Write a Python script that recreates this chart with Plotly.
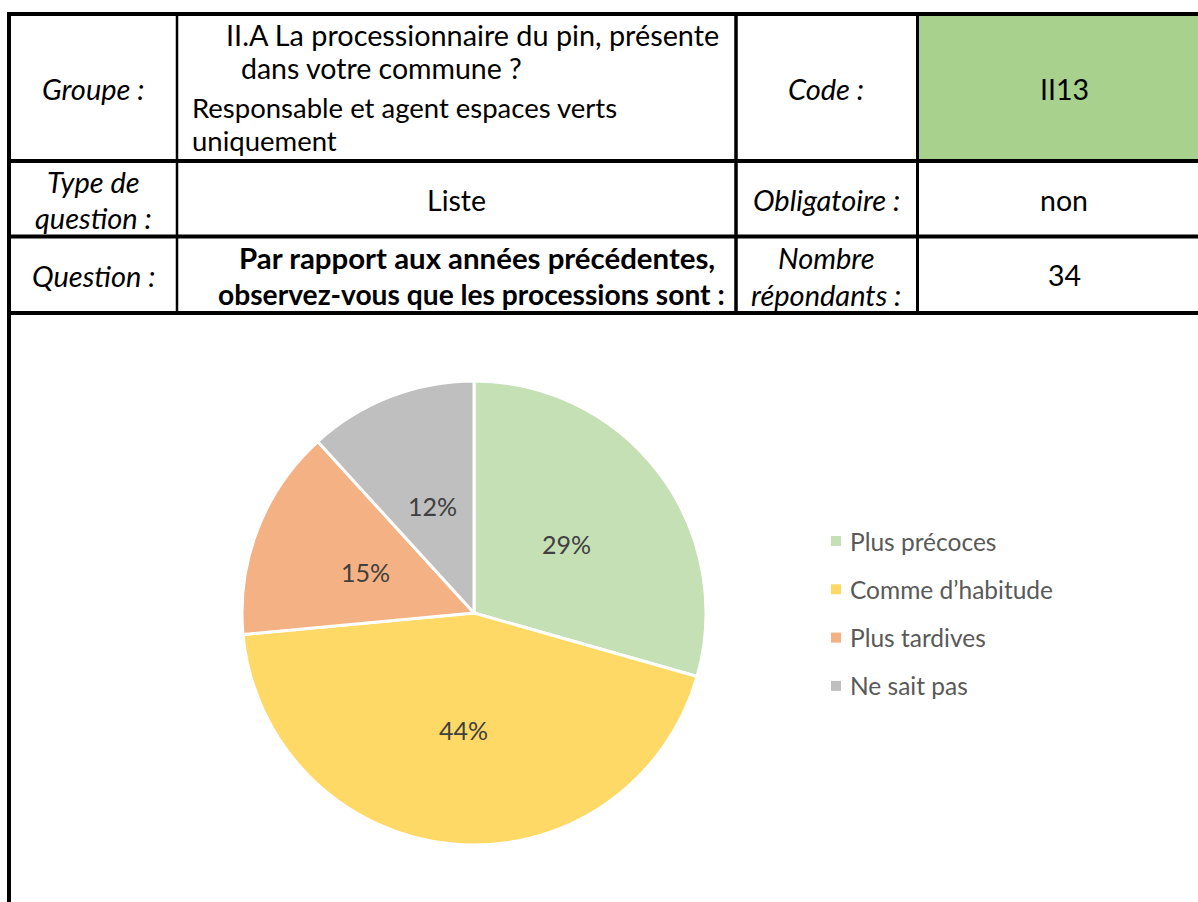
import math
import plotly.graph_objects as go

# ---- data ----
categories = ["Plus précoces", "Comme d’habitude", "Plus tardives", "Ne sait pas"]
counts = [10, 15, 5, 4]          # 34 respondents
colors = ["#C5E0B4", "#FFD966", "#F4B183", "#BFBFBF"]

W, H = 1198, 902
FONT = "Lato"

def px(x):
    return x / W

def py(y):
    return 1 - y / H

# pie placement (pixels)
PCX, PCY, PR = 474, 613, 232

fig = go.Figure()

fig.add_trace(go.Pie(
    labels=categories,
    values=counts,
    sort=False,
    direction="clockwise",
    rotation=0,
    marker=dict(colors=colors, line=dict(color="white", width=3)),
    textinfo="none",
    domain=dict(x=[px(PCX - PR), px(PCX + PR)], y=[py(PCY + PR), py(PCY - PR)]),
    showlegend=False,
    hoverinfo="label+percent",
))

shapes = []
# green code cell
shapes.append(dict(type="rect", xref="paper", yref="paper",
                   x0=px(917), x1=px(1200), y0=py(161), y1=py(14),
                   fillcolor="#A9D18E", line=dict(width=0), layer="below"))

def hline(y, x0, x1, w):
    shapes.append(dict(type="line", xref="paper", yref="paper",
                       x0=px(x0), x1=px(x1), y0=py(y), y1=py(y),
                       line=dict(color="black", width=w)))

def vline(x, y0, y1, w):
    shapes.append(dict(type="line", xref="paper", yref="paper",
                       x0=px(x), x1=px(x), y0=py(y0), y1=py(y1),
                       line=dict(color="black", width=w)))

hline(14, 7, 1200, 4)
hline(161, 7, 1200, 4)
hline(236.5, 7, 1200, 4)
hline(313, 7, 1200, 4)
vline(9, 12, 905, 4)
vline(177, 14, 313, 2.5)
vline(736, 14, 313, 3.5)
vline(917.5, 14, 313, 3)

annotations = []

def txt(x, y, s, anchor="center", italic=False, bold=False, size=29, color="black"):
    if bold:
        s = "<b>" + s + "</b>"
    if italic:
        s = "<i>" + s + "</i>"
    annotations.append(dict(x=px(x), y=py(y), xref="paper", yref="paper",
                            text=s, showarrow=False, xanchor=anchor, yanchor="middle",
                            font=dict(family=FONT, size=size, color=color)))

# row 1
txt(93, 89, "Groupe :", italic=True)
txt(224, 35, "II.A La processionnaire du pin, présente", anchor="left", size=28.8)
txt(239, 68, "dans votre commune ?", anchor="left", size=28.5)
txt(190, 107, "Responsable et agent espaces verts", anchor="left", size=27.5)
txt(190, 141, "uniquement", anchor="left", size=27.5)
txt(826, 89, "Code :", italic=True)
txt(1064, 89, "II13", size=28.5)
# row 2
txt(93, 181, "Type de", italic=True)
txt(93, 217, "question :", italic=True)
txt(456, 200, "Liste", size=28.5)
txt(826, 200, "Obligatoire :", italic=True)
txt(1064, 200, "non", size=28.5)
# row 3
txt(93, 275, "Question :", italic=True)
txt(477, 257, "Par rapport aux années précédentes,", bold=True, size=29.4)
txt(471, 294, "observez-vous que les processions sont :", bold=True, size=28.2)
txt(826, 257, "Nombre", italic=True)
txt(826, 294, "répondants :", italic=True)
txt(1064, 275, "34", size=28.5)

# data labels at mid-angle, half radius (derived from the values)
total = sum(counts)
cum = 0
for v in counts:
    frac = v / total
    mid = (cum + frac / 2) * 2 * math.pi
    cum += frac
    lx = PCX + 0.5 * PR * math.sin(mid)
    ly = PCY - 0.5 * PR * math.cos(mid)
    txt(lx, ly + 1, f"{round(100 * frac)}%", size=25, color="#404040")

# legend
for i, (cat, col) in enumerate(zip(categories, colors)):
    yc = 541 + i * 48.3
    shapes.append(dict(type="rect", xref="paper", yref="paper",
                       x0=px(831), x1=px(841), y0=py(yc + 5), y1=py(yc - 5),
                       fillcolor=col, line=dict(width=0)))
    txt(848, yc, cat, anchor="left", size=24.5, color="#595959")

fig.update_layout(
    width=W, height=H,
    margin=dict(l=0, r=0, t=0, b=0),
    paper_bgcolor="white",
    plot_bgcolor="white",
    shapes=shapes,
    annotations=annotations,
    font=dict(family=FONT),
)

fig.write_html("out.html", config={"displayModeBar": False},
               post_script="document.body.style.margin='0';")
